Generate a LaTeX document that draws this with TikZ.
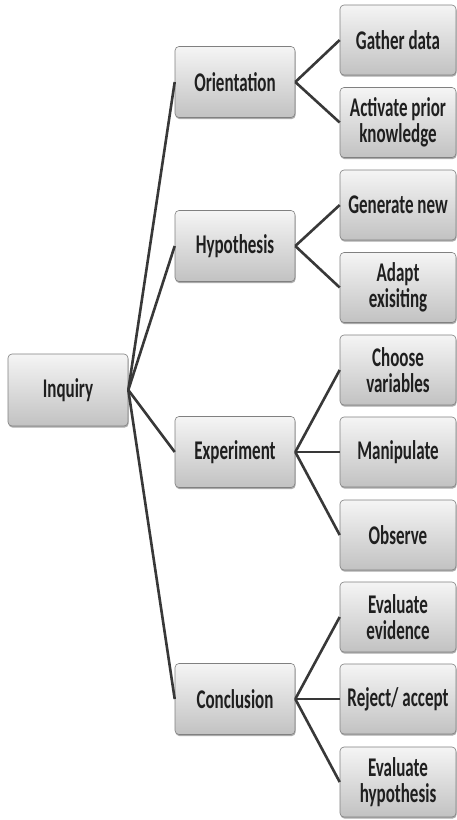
\documentclass[tikz,border=0pt]{standalone}
\usepackage{fontspec}
\setmainfont{Carlito}[FakeStretch=0.63]
\usetikzlibrary{shadows}
\tikzset{
  box/.style={draw=black!50, line width=0.6pt, rounded corners=4pt,
    top color=black!4, bottom color=black!24,
    drop shadow={shadow xshift=0.6pt, shadow yshift=-1.6pt, opacity=0.5, fill=black!65},
    align=center, font=\bfseries\fontsize{27}{25.5}\selectfont, text=black!88,
    inner sep=0pt},
  rootbox/.style={box, minimum width=120pt, minimum height=72pt},
  midbox/.style={box, minimum width=120pt, minimum height=71pt},
  leafbox/.style={box, minimum width=116pt, minimum height=70pt},
  link/.style={draw=black!78, line width=2.6pt}
}
\begin{document}
\begin{tikzpicture}[x=1pt,y=-1pt]
\useasboundingbox (0,0) rectangle (457,820);
\fill[white] (0,0) rectangle (457,820);
% root
\node[rootbox] (inq) at (68,390) {Inquiry};
% middle
\node[midbox] (ori) at (235,82) {Orientation};
\node[midbox] (hyp) at (235,246) {Hypothesis};
\node[midbox] (exp) at (235,452) {Experiment};
\node[midbox] (con) at (235,699) {Conclusion};
% leaves
\node[leafbox] (gat) at (398,40) {Gather data};
\node[leafbox] (act) at (398,122.5) {Activate prior\\knowledge};
\node[leafbox] (gen) at (398,205) {Generate new};
\node[leafbox] (ada) at (398,287.5) {Adapt\\exisiting};
\node[leafbox] (cho) at (398,370) {Choose\\variables};
\node[leafbox] (man) at (398,452) {Manipulate};
\node[leafbox] (obs) at (398,535) {Observe};
\node[leafbox] (eve) at (398,617) {Evaluate\\evidence};
\node[leafbox] (rej) at (398,699) {Reject/ accept};
\node[leafbox] (evh) at (398,782) {Evaluate\\hypothesis};
% connectors
\foreach \m in {ori,hyp,exp,con} \draw[link] (inq.east) -- (\m.west);
\draw[link] (ori.east) -- (gat.west);
\draw[link] (ori.east) -- (act.west);
\draw[link] (hyp.east) -- (gen.west);
\draw[link] (hyp.east) -- (ada.west);
\draw[link] (exp.east) -- (cho.west);
\draw[link] (exp.east) -- (man.west);
\draw[link] (exp.east) -- (obs.west);
\draw[link] (con.east) -- (eve.west);
\draw[link] (con.east) -- (rej.west);
\draw[link] (con.east) -- (evh.west);
\end{tikzpicture}
\end{document}
